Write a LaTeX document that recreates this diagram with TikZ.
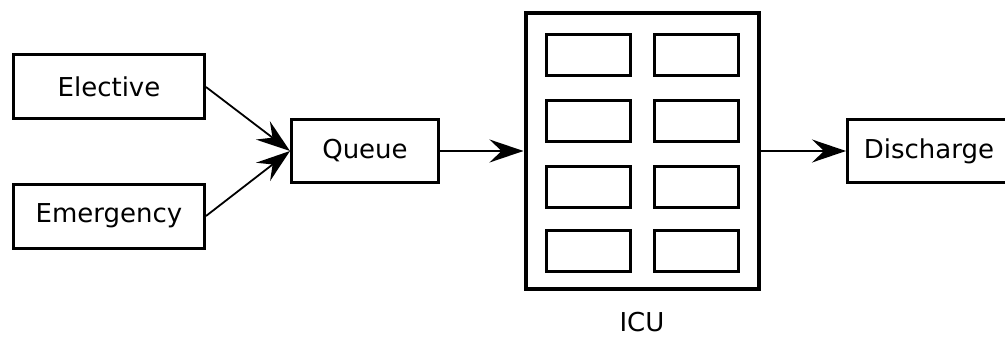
\documentclass[tikz,border=0pt]{standalone}
\usepackage{fontspec}
\setmainfont{DejaVu Sans}
\usetikzlibrary{arrows.meta}
\begin{document}
\begin{tikzpicture}[x=1pt,y=-1pt,
  box/.style={draw, line width=3pt, rectangle, inner sep=0pt, font=\fontsize{26}{30}\selectfont},
  cell/.style={draw, line width=3pt, rectangle, inner sep=0pt, minimum width=84pt, minimum height=41pt},
  flow/.style={line width=1.8pt, -{Stealth[length=34pt, width=23pt, inset=12pt]}}]
\useasboundingbox (0,0) rectangle (1005,337);
\clip (0,0) rectangle (1005,337);
% sources
\node[box, minimum width=191pt, minimum height=64pt] (elective) at (109,87) {Elective};
\node[box, minimum width=191pt, minimum height=64pt] (emergency) at (109,216) {Emergency};
% waiting queue
\node[box, minimum width=147pt, minimum height=62pt] (queue) at (365,151) {Queue};
% ICU with its beds
\node[draw, line width=4pt, rectangle, inner sep=0pt, minimum width=233pt, minimum height=276pt] (icu) at (642,151) {};
\node[cell] (b11) at (588.5,55) {};
\node[cell] (b12) at (696,55) {};
\node[cell] (b21) at (588.5,121) {};
\node[cell] (b22) at (696,121) {};
\node[cell] (b31) at (588.5,187) {};
\node[cell] (b32) at (696,187) {};
\node[cell] (b41) at (588.5,251) {};
\node[cell] (b42) at (696,251) {};
\node[font=\fontsize{26}{30}\selectfont] (icuname) at (642,322) {ICU};
% exit
\node[box, minimum width=163pt, minimum height=62pt] (discharge) at (929,151) {Discharge};
% flows
\draw[flow] (elective.east) -- (queue.west);
\draw[flow] (emergency.east) -- (queue.west);
\draw[flow] (queue.east) -- (icu.west);
\draw[flow] (icu.east) -- (discharge.west);
\end{tikzpicture}
\end{document}
